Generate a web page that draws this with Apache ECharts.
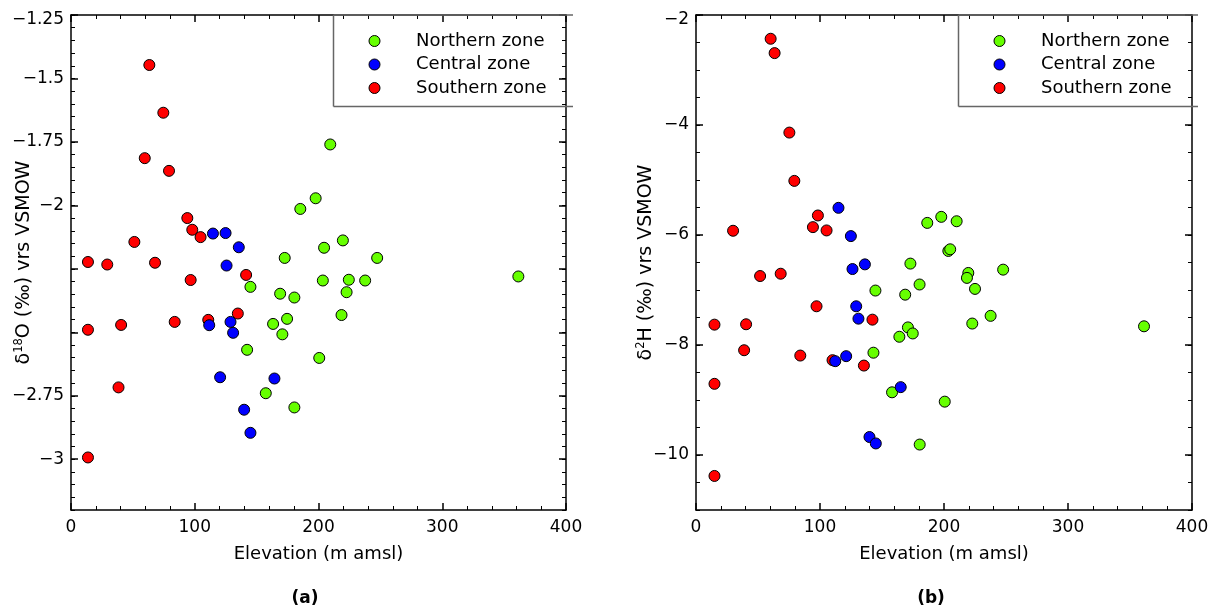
<!DOCTYPE html>
<html><head><meta charset="utf-8">
<script src="https://cdn.jsdelivr.net/npm/echarts@6/dist/echarts.min.js"></script>
<style>html,body{margin:0;padding:0;background:#fff}#c{width:1209px;height:613px}</style>
</head><body><div id="c"></div>
<script>
// ---------- data ----------
const zones = ['Northern zone', 'Central zone', 'Southern zone'];
const zoneColors = ['#66ff00', '#0000ff', '#ff0000'];

// panel (a): [elevation (m amsl), δ18O (‰)]
const northA = [[209.5,-1.76],[197.7,-1.972],[185.3,-2.014],[219.7,-2.138],[204.5,-2.167],[172.7,-2.207],[247.4,-2.207],[203.5,-2.296],[224.5,-2.293],[237.7,-2.296],[222.7,-2.342],[145.0,-2.321],[169.0,-2.348],[180.5,-2.363],[163.3,-2.467],[174.6,-2.447],[170.8,-2.508],[218.6,-2.432],[142.3,-2.569],[200.6,-2.601],[157.4,-2.74],[180.5,-2.796],[361.5,-2.28]];
const centralA = [[114.7,-2.111],[124.9,-2.109],[135.6,-2.165],[125.7,-2.237],[111.7,-2.472],[128.9,-2.459],[131.0,-2.502],[120.5,-2.677],[139.9,-2.805],[145.0,-2.896],[164.4,-2.682]];
const southA = [[63.3,-1.447],[74.6,-1.635],[59.6,-1.814],[79.2,-1.864],[94.0,-2.05],[98.0,-2.096],[104.7,-2.125],[51.2,-2.144],[13.7,-2.223],[29.3,-2.233],[67.9,-2.226],[96.7,-2.294],[141.5,-2.274],[13.7,-2.49],[40.5,-2.471],[83.8,-2.459],[110.9,-2.451],[134.8,-2.426],[38.4,-2.717],[13.7,-2.993]];

// panel (b): [elevation (m amsl), δ2H (‰)]
const northB = [[186.5,-5.78],[197.8,-5.67],[210.2,-5.75],[203.5,-6.29],[205.0,-6.26],[172.9,-6.52],[219.6,-6.69],[218.5,-6.78],[247.7,-6.63],[180.3,-6.9],[144.7,-7.01],[168.7,-7.085],[225.0,-6.98],[237.6,-7.47],[222.8,-7.61],[170.9,-7.68],[174.8,-7.79],[164.0,-7.85],[143.1,-8.14],[158.1,-8.86],[180.4,-9.81],[200.6,-9.03],[361.3,-7.66]];
const centralB = [[114.9,-5.506],[124.9,-6.02],[126.2,-6.619],[136.2,-6.534],[129.2,-7.296],[131.0,-7.521],[112.3,-8.294],[121.1,-8.203],[165.1,-8.766],[139.9,-9.673],[145.0,-9.79]];
const southB = [[60.2,-2.432],[63.4,-2.693],[75.3,-4.138],[79.3,-5.016],[98.3,-5.645],[94.3,-5.857],[105.3,-5.917],[29.9,-5.923],[51.7,-6.746],[68.3,-6.704],[97.2,-7.296],[14.9,-7.63],[40.4,-7.623],[142.3,-7.539],[38.8,-8.095],[84.1,-8.192],[135.4,-8.374],[14.9,-8.706],[14.9,-10.381],[110.1,-8.276]];

// ticks and labels
const xTicks = [0, 100, 200, 300, 400];
const yTicksA = [-3, -2.75, -2.5, -2.25, -2, -1.75, -1.5, -1.25];
const yLabelsA = [-3, -2.75, -2, -1.75, -1.5, -1.25];
const yTicksB = [-10, -8, -6, -4, -2];
const yLabelsB = [-10, -8, -6, -4, -2];
const xTitle = 'Elevation (m amsl)';
const yTitleA = '{a|δ}{s|18}{a|O (‰) vrs VSMOW}';
const yTitleB = '{a|δ}{s|2}{a|H (‰) vrs VSMOW}';
const panelTags = ['(a)', '(b)'];

// ---------- chart ----------
const FONT = 'DejaVu Sans';
function steps(a, b, s) { const r = []; const n = Math.round((b - a) / s); for (let i = 0; i <= n; i++) r.push(Math.round((a + i * s) * 1000) / 1000); return r; }
const minusText = v => (v < 0 ? '\u2212' : '') + Math.abs(v);
const lineStyle = { color: '#000', width: 1.5 };
const labelFont = { fontSize: 17, fontFamily: FONT, color: '#000' };

const panels = [
  { grid: { left: 71, right: 643, top: 15, bottom: 103 }, yMin: -3.2, yMax: -1.25, yMajor: yTicksA, yLabels: yLabelsA, yMinor: steps(-3.2, -1.25, 0.05), yName: yTitleA, yNameGap: 36, data: [northA, centralA, southA], tagX: 305, legendLeft: 368.5, box: [333.5, 573] },
  { grid: { left: 696, right: 17, top: 15, bottom: 103 }, yMin: -11, yMax: -2, yMajor: yTicksB, yLabels: yLabelsB, yMinor: steps(-11, -2, 0.5), yName: yTitleB, yNameGap: 39, data: [northB, centralB, southB], tagX: 931, legendLeft: 993.5, box: [958.5, 1198] }
];

const option = { animation: false, grid: [], xAxis: [], yAxis: [], series: [], legend: [], graphic: [] };

panels.forEach((p, g) => {
  option.grid.push(Object.assign({ containLabel: false, outerBoundsMode: 'none' }, p.grid));
  const xBase = { gridIndex: g, type: 'value', min: 0, max: 400, interval: 100, splitLine: { show: false },
    axisLine: { show: true, onZero: false, lineStyle },
    axisTick: { show: true, inside: true, length: 7, lineStyle },
    minorTick: { show: true, splitNumber: 5, length: 4, lineStyle: { color: '#000', width: 1 } } };
  option.xAxis.push(Object.assign({}, xBase, { position: 'bottom',
    axisLabel: Object.assign({ show: true, margin: 9 }, labelFont),
    name: xTitle, nameLocation: 'middle', nameGap: 35, nameMoveOverlap: false,
    nameTextStyle: { fontSize: 18, fontFamily: FONT, color: '#000' } }));
  option.xAxis.push(Object.assign({}, xBase, { position: 'top', axisLabel: { show: false } }));

  const topVal = p.yMax;
  const yBase = { gridIndex: g, type: 'value', min: p.yMin, max: p.yMax, splitLine: { show: false } };
  option.yAxis.push(Object.assign({}, yBase, { position: 'left',
    axisLine: { show: true, onZero: false, lineStyle },
    axisTick: { show: true, inside: true, length: 7, customValues: p.yMajor, lineStyle },
    axisLabel: Object.assign({ show: true, customValues: p.yLabels, margin: 7,
      formatter: v => (Math.abs(v - topVal) < 1e-9 ? '{t|' + minusText(v) + '}' : minusText(v)),
      rich: { t: Object.assign({ padding: [10, 0, 0, 0] }, labelFont) } }, labelFont),
    name: p.yName, nameLocation: 'middle', nameGap: p.yNameGap, nameMoveOverlap: false,
    nameTextStyle: { fontSize: 19, fontFamily: FONT, color: '#000',
      rich: { a: { fontSize: 19, fontFamily: FONT, color: '#000', lineHeight: 22 },
              s: { fontSize: 11.5, fontFamily: FONT, color: '#000', lineHeight: 11, verticalAlign: 'top' } } } }));
  option.yAxis.push(Object.assign({}, yBase, { position: 'right',
    axisLine: { show: true, onZero: false, lineStyle },
    axisTick: { show: true, inside: true, length: 7, customValues: p.yMajor, lineStyle },
    axisLabel: { show: false } }));
  option.yAxis.push(Object.assign({}, yBase, { position: 'left',
    axisLine: { show: false, onZero: false },
    axisTick: { show: true, inside: true, length: 4, customValues: p.yMinor, lineStyle: { color: '#000', width: 1 } },
    axisLabel: { show: false } }));
  option.yAxis.push(Object.assign({}, yBase, { position: 'right',
    axisLine: { show: false, onZero: false },
    axisTick: { show: true, inside: true, length: 4, customValues: p.yMinor, lineStyle: { color: '#000', width: 1 } },
    axisLabel: { show: false } }));

  // draw order: Northern, Southern, Central (blue on top of red)
  [0, 2, 1].forEach(k => {
    option.series.push({ type: 'scatter', name: zones[k], xAxisIndex: 2 * g, yAxisIndex: 4 * g,
      data: p.data[k], symbol: 'circle', symbolSize: 11, z: 2 + (k === 1 ? 1 : 0),
      itemStyle: { color: zoneColors[k], borderColor: '#000', borderWidth: 1, opacity: 1 },
      emphasis: { disabled: true } });
  });

  option.legend.push({ data: zones, orient: 'vertical', left: p.legendLeft, top: 32, padding: 0,
    itemWidth: 73, itemHeight: 11, itemGap: 5.5, icon: 'circle', selectedMode: false,
    itemStyle: { borderColor: '#000', borderWidth: 1 },
    textStyle: { fontSize: 18, fontFamily: FONT, color: '#000' } });

  const [bx0, bx1] = p.box;
  const boxStyle = { stroke: '#666', lineWidth: 1.5 };
  option.graphic.push(
    { type: 'line', shape: { x1: bx0, y1: 15, x2: bx1, y2: 15 }, style: boxStyle, z: 1 },
    { type: 'line', shape: { x1: bx0, y1: 106.5, x2: bx1, y2: 106.5 }, style: boxStyle, z: 1 },
    { type: 'line', shape: { x1: bx0, y1: 15, x2: bx0, y2: 106.5 }, style: boxStyle, z: 1 },
    { type: 'text', x: p.tagX, y: 599, style: { text: panelTags[g], font: 'bold 17px ' + FONT, fill: '#000',
      textAlign: 'center', textVerticalAlign: 'middle', align: 'center', verticalAlign: 'middle' } }
  );
});

const chart = echarts.init(document.getElementById('c'));
chart.setOption(option);
</script>
</body></html>
